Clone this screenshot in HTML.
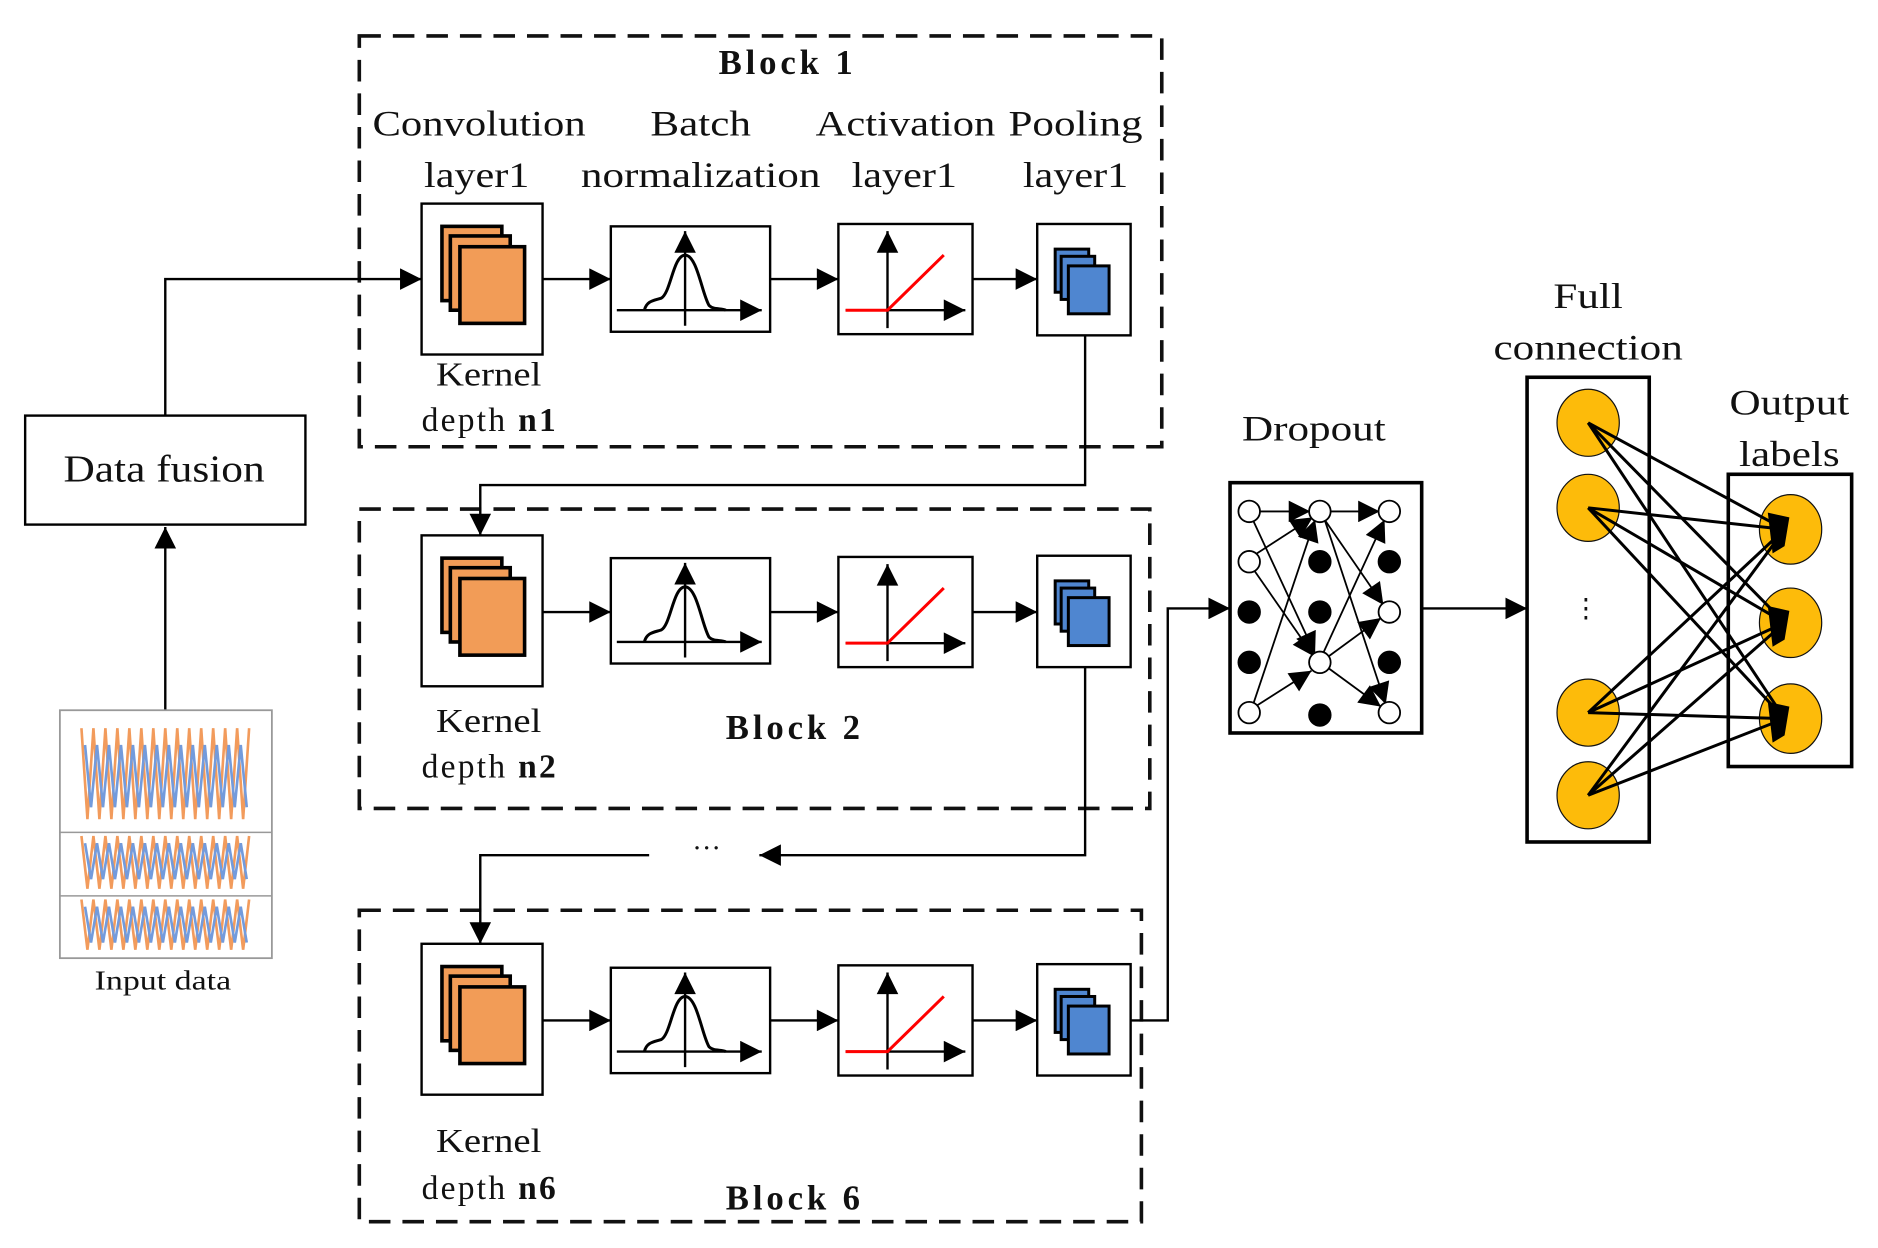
<!DOCTYPE html>
<html><head><meta charset="utf-8"><style>
html,body{margin:0;padding:0;background:#fff;}
svg{display:block;}
text{font-family:"Liberation Serif",serif;fill:#111;}
</style></head><body>
<svg width="1878" height="1248" viewBox="0 0 1568 1042" preserveAspectRatio="none" xmlns="http://www.w3.org/2000/svg">
<defs>
<marker id="ahb" viewBox="0 0 10 10" refX="10" refY="5" markerWidth="22" markerHeight="18" markerUnits="userSpaceOnUse" orient="auto"><path d="M0,0 L10,5 L0,10 z" fill="#000"/></marker>
<g id="conv">
 <rect x="0" y="0" width="101" height="126" fill="#fff" stroke="#000" stroke-width="2"/>
 <rect x="17" y="19" width="50" height="62" fill="#f29c57" stroke="#000" stroke-width="3"/>
 <rect x="24" y="27" width="50" height="62" fill="#f29c57" stroke="#000" stroke-width="3"/>
 <rect x="32" y="36" width="54" height="64" fill="#f29c57" stroke="#000" stroke-width="3"/>
</g>
<g id="bn">
 <rect x="0" y="0" width="133" height="88" fill="#fff" stroke="#000" stroke-width="2"/>
 <line x1="62" y1="83" x2="62" y2="4" stroke="#000" stroke-width="2" marker-end="url(#ahb)"/>
 <line x1="5" y1="70" x2="126" y2="70" stroke="#000" stroke-width="2" marker-end="url(#ahb)"/>
 <path d="M28,70 C30,62 36,62 42,60 C50,56 52,24 62,24 C72,24 76,56 82,66 C86,70 92,68 96,70" fill="none" stroke="#000" stroke-width="2.5"/>
</g>
<g id="act">
 <rect x="0" y="0" width="112" height="92" fill="#fff" stroke="#000" stroke-width="2"/>
 <line x1="41" y1="87" x2="41" y2="6" stroke="#000" stroke-width="2" marker-end="url(#ahb)"/>
 <line x1="6" y1="72" x2="106" y2="72" stroke="#000" stroke-width="2" marker-end="url(#ahb)"/>
 <polyline points="6,72 41,72 88,26" fill="none" stroke="#f00" stroke-width="2.5"/>
</g>
<g id="pool">
 <rect x="0" y="0" width="78" height="93" fill="#fff" stroke="#000" stroke-width="2"/>
 <rect x="15" y="21" width="28" height="36" fill="#4f86d0" stroke="#000" stroke-width="2.5"/>
 <rect x="20" y="27" width="28" height="36" fill="#4f86d0" stroke="#000" stroke-width="2.5"/>
 <rect x="26" y="35" width="34" height="40" fill="#4f86d0" stroke="#000" stroke-width="2.5"/>
</g>
</defs>

<g fill="none" stroke="#111" stroke-width="3" stroke-dasharray="18,10">
 <rect x="300" y="30" width="670" height="343"/>
 <rect x="300" y="425" width="660" height="250"/>
 <rect x="300" y="760" width="653" height="260"/>
</g>

<text x="656" y="62" font-size="29" font-weight="bold" text-anchor="middle" textLength="112">Block 1</text>
<text x="662" y="617" font-size="29" font-weight="bold" text-anchor="middle" textLength="112">Block 2</text>
<text x="662" y="1010" font-size="29" font-weight="bold" text-anchor="middle" textLength="112">Block 6</text>

<g font-size="30" text-anchor="middle" lengthAdjust="spacingAndGlyphs">
 <text x="400" y="113" textLength="178" lengthAdjust="spacingAndGlyphs">Convolution</text>
 <text x="398" y="156" textLength="88" lengthAdjust="spacingAndGlyphs">layer1</text>
 <text x="585" y="113" textLength="84" lengthAdjust="spacingAndGlyphs">Batch</text>
 <text x="585" y="156" textLength="200" lengthAdjust="spacingAndGlyphs">normalization</text>
 <text x="756" y="113" textLength="150" lengthAdjust="spacingAndGlyphs">Activation</text>
 <text x="755" y="156" textLength="88" lengthAdjust="spacingAndGlyphs">layer1</text>
 <text x="898" y="113" textLength="112" lengthAdjust="spacingAndGlyphs">Pooling</text>
 <text x="898" y="156" textLength="88" lengthAdjust="spacingAndGlyphs">layer1</text>
</g>
<g font-size="28" text-anchor="middle">
 <text x="408" y="322" textLength="88" lengthAdjust="spacingAndGlyphs">Kernel</text>
 <text x="408" y="360" textLength="112">depth <tspan font-weight="bold">n1</tspan></text>
 <text x="408" y="611" textLength="88" lengthAdjust="spacingAndGlyphs">Kernel</text>
 <text x="408" y="649" textLength="112">depth <tspan font-weight="bold">n2</tspan></text>
 <text x="408" y="962" textLength="88" lengthAdjust="spacingAndGlyphs">Kernel</text>
 <text x="408" y="1001" textLength="112">depth <tspan font-weight="bold">n6</tspan></text>
</g>

<use href="#conv" x="352" y="170"/><use href="#bn" x="510" y="189"/><use href="#act" x="700" y="187"/><use href="#pool" x="866" y="187"/>
<use href="#conv" x="352" y="447"/><use href="#bn" x="510" y="466"/><use href="#act" x="700" y="465"/><use href="#pool" x="866" y="464"/>
<use href="#conv" x="352" y="788"/><use href="#bn" x="510" y="808"/><use href="#act" x="700" y="806"/><use href="#pool" x="866" y="805"/>

<g stroke="#000" stroke-width="2" fill="none" marker-end="url(#ahb)">
 <line x1="453" y1="233" x2="510" y2="233"/>
 <line x1="643" y1="233" x2="700" y2="233"/>
 <line x1="812" y1="233" x2="866" y2="233"/>
 <line x1="453" y1="511" x2="510" y2="511"/>
 <line x1="643" y1="511" x2="700" y2="511"/>
 <line x1="812" y1="511" x2="866" y2="511"/>
 <line x1="453" y1="852" x2="510" y2="852"/>
 <line x1="643" y1="852" x2="700" y2="852"/>
 <line x1="812" y1="852" x2="866" y2="852"/>
 <polyline points="138,347 138,233 352,233"/>
 <line x1="138" y1="593" x2="138" y2="440"/>
 <polyline points="906,280 906,405 401,405 401,447"/>
 <polyline points="906,557 906,714 634,714"/>
 <polyline points="542,714 401,714 401,788"/>
 <polyline points="944,852 975,852 975,508 1027,508"/>
 <line x1="1187" y1="508" x2="1275" y2="508"/>
</g>
<text x="590" y="716" font-size="24" text-anchor="middle">···</text>

<rect x="21" y="347" width="234" height="91" fill="#fff" stroke="#000" stroke-width="2"/>
<text x="137" y="402" font-size="32" text-anchor="middle" textLength="168" lengthAdjust="spacingAndGlyphs">Data fusion</text>

<g>
 <rect x="50" y="593" width="177" height="207" fill="#fff" stroke="#999" stroke-width="1.5"/>
 <line x1="50" y1="695" x2="227" y2="695" stroke="#999" stroke-width="1.2"/>
 <line x1="50" y1="748" x2="227" y2="748" stroke="#999" stroke-width="1.2"/>
 <g fill="none" stroke-width="2.2" opacity="0.85">
  <path d="M68,608 l5,76 l5,-76 l5,76 l5,-76 l5,76 l5,-76 l5,76 l5,-76 l5,76 l5,-76 l5,76 l5,-76 l5,76 l5,-76 l5,76 l5,-76 l5,76 l5,-76 l5,76 l5,-76 l5,76 l5,-76 l5,76 l5,-76 l5,76 l5,-76 l5,76 l5,-76" stroke="#f08a40"/>
  <path d="M71,622 l5,52 l5,-52 l5,52 l5,-52 l5,52 l5,-52 l5,52 l5,-52 l5,52 l5,-52 l5,52 l5,-52 l5,52 l5,-52 l5,52 l5,-52 l5,52 l5,-52 l5,52 l5,-52 l5,52 l5,-52 l5,52 l5,-52 l5,52 l5,-52 l5,52" stroke="#5b8ad6"/>
  <path d="M68,698 l5,44 l5,-44 l5,44 l5,-44 l5,44 l5,-44 l5,44 l5,-44 l5,44 l5,-44 l5,44 l5,-44 l5,44 l5,-44 l5,44 l5,-44 l5,44 l5,-44 l5,44 l5,-44 l5,44 l5,-44 l5,44 l5,-44 l5,44 l5,-44 l5,44 l5,-44" stroke="#f08a40"/>
  <path d="M71,704 l5,30 l5,-30 l5,30 l5,-30 l5,30 l5,-30 l5,30 l5,-30 l5,30 l5,-30 l5,30 l5,-30 l5,30 l5,-30 l5,30 l5,-30 l5,30 l5,-30 l5,30 l5,-30 l5,30 l5,-30 l5,30 l5,-30 l5,30 l5,-30 l5,30" stroke="#5b8ad6"/>
  <path d="M68,751 l5,42 l5,-42 l5,42 l5,-42 l5,42 l5,-42 l5,42 l5,-42 l5,42 l5,-42 l5,42 l5,-42 l5,42 l5,-42 l5,42 l5,-42 l5,42 l5,-42 l5,42 l5,-42 l5,42 l5,-42 l5,42 l5,-42 l5,42 l5,-42 l5,42 l5,-42" stroke="#f08a40"/>
  <path d="M71,757 l5,30 l5,-30 l5,30 l5,-30 l5,30 l5,-30 l5,30 l5,-30 l5,30 l5,-30 l5,30 l5,-30 l5,30 l5,-30 l5,30 l5,-30 l5,30 l5,-30 l5,30 l5,-30 l5,30 l5,-30 l5,30 l5,-30 l5,30 l5,-30 l5,30" stroke="#5b8ad6"/>
 </g>
</g>
<text x="136" y="826" font-size="23" text-anchor="middle" textLength="114" lengthAdjust="spacingAndGlyphs">Input data</text>

<text x="1097" y="368" font-size="30" text-anchor="middle" textLength="120" lengthAdjust="spacingAndGlyphs">Dropout</text>
<rect x="1027" y="403" width="160" height="209" fill="#fff" stroke="#000" stroke-width="3"/>
<g stroke="#000" stroke-width="1.5" fill="none">
 <line x1="1050" y1="427" x2="1094" y2="427" marker-end="url(#ahb)"/>
 <line x1="1110" y1="427" x2="1152" y2="427" marker-end="url(#ahb)"/>
 <line x1="1048" y1="463" x2="1096" y2="432" marker-end="url(#ahb)"/>
 <line x1="1046" y1="589" x2="1098" y2="434" marker-end="url(#ahb)"/>
 <line x1="1046" y1="434" x2="1098" y2="546" marker-end="url(#ahb)"/>
 <line x1="1047" y1="476" x2="1097" y2="548" marker-end="url(#ahb)"/>
 <line x1="1048" y1="590" x2="1095" y2="560" marker-end="url(#ahb)"/>
 <line x1="1106" y1="434" x2="1155" y2="505" marker-end="url(#ahb)"/>
 <line x1="1106" y1="434" x2="1157" y2="588" marker-end="url(#ahb)"/>
 <line x1="1104" y1="547" x2="1156" y2="434" marker-end="url(#ahb)"/>
 <line x1="1108" y1="549" x2="1153" y2="516" marker-end="url(#ahb)"/>
 <line x1="1108" y1="557" x2="1153" y2="590" marker-end="url(#ahb)"/>
</g>
<g stroke="#000" stroke-width="1.5">
 <circle cx="1043" cy="427" r="9" fill="#fff"/><circle cx="1043" cy="469" r="9" fill="#fff"/>
 <circle cx="1043" cy="511" r="9" fill="#000"/><circle cx="1043" cy="553" r="9" fill="#000"/>
 <circle cx="1043" cy="595" r="9" fill="#fff"/>
 <circle cx="1102" cy="427" r="9" fill="#fff"/><circle cx="1102" cy="469" r="9" fill="#000"/>
 <circle cx="1102" cy="511" r="9" fill="#000"/><circle cx="1102" cy="553" r="9" fill="#fff"/>
 <circle cx="1102" cy="597" r="9" fill="#000"/>
 <circle cx="1160" cy="427" r="9" fill="#fff"/><circle cx="1160" cy="469" r="9" fill="#000"/>
 <circle cx="1160" cy="511" r="9" fill="#fff"/><circle cx="1160" cy="553" r="9" fill="#000"/>
 <circle cx="1160" cy="595" r="9" fill="#fff"/>
</g>

<text x="1326" y="257" font-size="30" text-anchor="middle" textLength="58" lengthAdjust="spacingAndGlyphs">Full</text>
<text x="1326" y="300" font-size="30" text-anchor="middle" textLength="158" lengthAdjust="spacingAndGlyphs">connection</text>
<rect x="1275" y="315" width="102" height="388" fill="#fff" stroke="#000" stroke-width="3"/>
<text x="1494" y="346" font-size="30" text-anchor="middle" textLength="100" lengthAdjust="spacingAndGlyphs">Output</text>
<text x="1494" y="389" font-size="30" text-anchor="middle" textLength="84" lengthAdjust="spacingAndGlyphs">labels</text>
<rect x="1443" y="396" width="103" height="244" fill="#fff" stroke="#000" stroke-width="3"/>
<g stroke="#111" stroke-width="1">
 <ellipse cx="1326" cy="353" rx="26" ry="28" fill="#fdbb0a"/>
 <ellipse cx="1326" cy="424" rx="26" ry="28" fill="#fdbb0a"/>
 <ellipse cx="1326" cy="595" rx="26" ry="28" fill="#fdbb0a"/>
 <ellipse cx="1326" cy="664" rx="26" ry="28" fill="#fdbb0a"/>
 <ellipse cx="1495" cy="442" rx="26" ry="29" fill="#fdbb0a"/>
 <ellipse cx="1495" cy="520" rx="26" ry="29" fill="#fdbb0a"/>
 <ellipse cx="1495" cy="600" rx="26" ry="29" fill="#fdbb0a"/>
</g>
<text x="1324" y="515" font-size="22" text-anchor="middle">⋮</text>
<g stroke="#000" stroke-width="2.5">
 <line x1="1326" y1="353" x2="1490" y2="442"/><line x1="1326" y1="353" x2="1490" y2="520"/><line x1="1326" y1="353" x2="1490" y2="600"/>
 <line x1="1326" y1="424" x2="1490" y2="442"/><line x1="1326" y1="424" x2="1490" y2="520"/><line x1="1326" y1="424" x2="1490" y2="600"/>
 <line x1="1326" y1="595" x2="1490" y2="442"/><line x1="1326" y1="595" x2="1490" y2="520"/><line x1="1326" y1="595" x2="1490" y2="600"/>
 <line x1="1326" y1="664" x2="1490" y2="442"/><line x1="1326" y1="664" x2="1490" y2="520"/><line x1="1326" y1="664" x2="1490" y2="600"/>
</g>
<g fill="#000">
 <path d="M1476,428 L1494,432 L1490,456 L1480,462 z"/>
 <path d="M1476,506 L1494,510 L1490,534 L1480,540 z"/>
 <path d="M1476,586 L1494,590 L1490,614 L1480,620 z"/>
</g>
</svg>
</body></html>
